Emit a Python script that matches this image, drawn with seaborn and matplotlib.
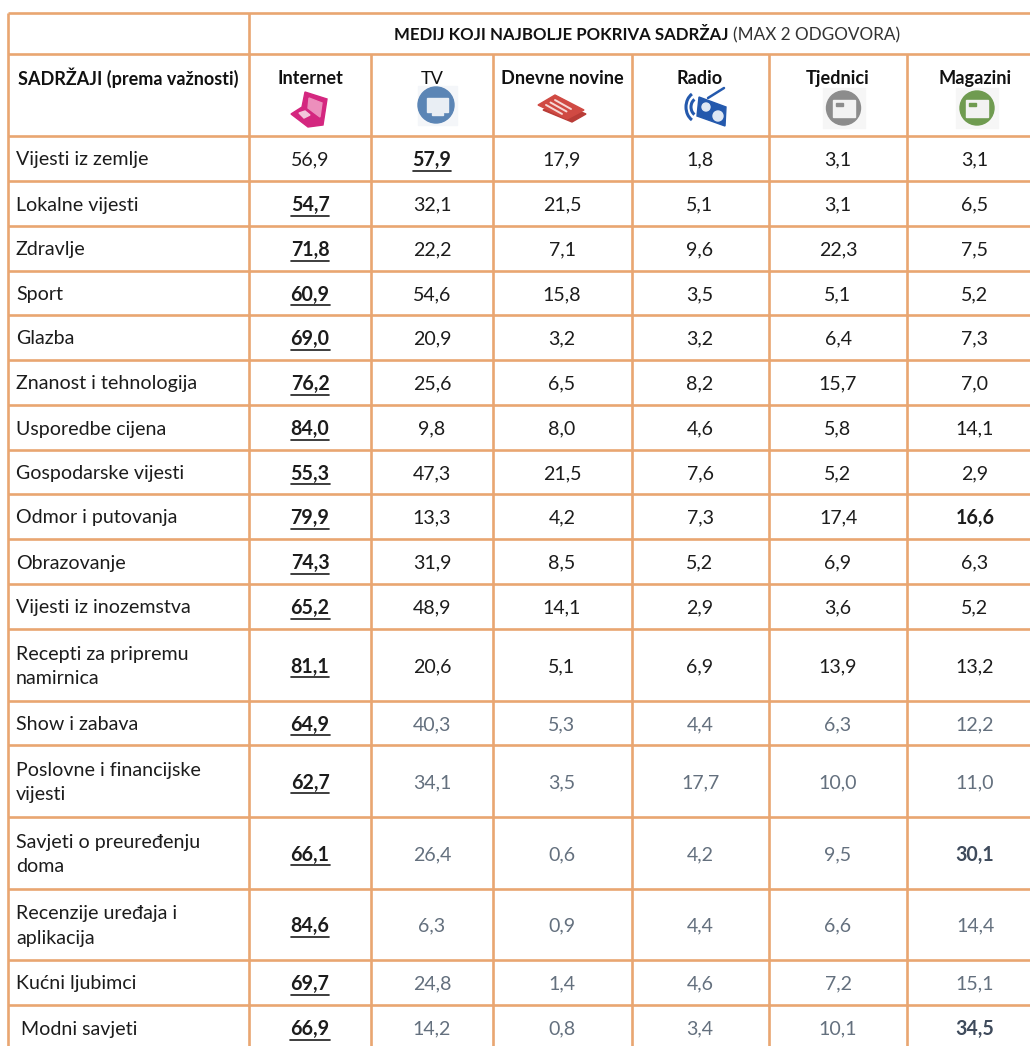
import matplotlib
matplotlib.use("Agg")
import matplotlib.pyplot as plt
from matplotlib.patches import Circle, Polygon, Rectangle, Arc
import pandas as pd
import seaborn as sns

# ===================== DATA =====================
sadrzaji = ["Vijesti iz zemlje", "Lokalne vijesti", "Zdravlje", "Sport", "Glazba",
            "Znanost i tehnologija", "Usporedbe cijena", "Gospodarske vijesti",
            "Odmor i putovanja", "Obrazovanje", "Vijesti iz inozemstva",
            "Recepti za pripremu\nnamirnica", "Show i zabava",
            "Poslovne i financijske\nvijesti", "Savjeti o preuređenju\ndoma",
            "Recenzije uređaja i\naplikacija", "Kućni ljubimci", " Modni savjeti"]
mediji = ["Internet", "TV", "Dnevne novine", "Radio", "Tjednici", "Magazini"]
internet = ["56,9", "54,7", "71,8", "60,9", "69,0", "76,2", "84,0", "55,3", "79,9",
            "74,3", "65,2", "81,1", "64,9", "62,7", "66,1", "84,6", "69,7", "66,9"]
tv = ["57,9", "32,1", "22,2", "54,6", "20,9", "25,6", "9,8", "47,3", "13,3",
      "31,9", "48,9", "20,6", "40,3", "34,1", "26,4", "6,3", "24,8", "14,2"]
novine = ["17,9", "21,5", "7,1", "15,8", "3,2", "6,5", "8,0", "21,5", "4,2",
          "8,5", "14,1", "5,1", "5,3", "3,5", "0,6", "0,9", "1,4", "0,8"]
radio = ["1,8", "5,1", "9,6", "3,5", "3,2", "8,2", "4,6", "7,6", "7,3",
         "5,2", "2,9", "6,9", "4,4", "17,7", "4,2", "4,4", "4,6", "3,4"]
tjednici = ["3,1", "3,1", "22,3", "5,1", "6,4", "15,7", "5,8", "5,2", "17,4",
            "6,9", "3,6", "13,9", "6,3", "10,0", "9,5", "6,6", "7,2", "10,1"]
magazini = ["3,1", "6,5", "7,5", "5,2", "7,3", "7,0", "14,1", "2,9", "16,6",
            "6,3", "5,2", "13,2", "12,2", "11,0", "30,1", "14,4", "15,1", "34,5"]
stupci = [internet, tv, novine, radio, tjednici, magazini]

# ===================== LAYOUT =====================
W, H = 1030, 1046
LINE = "#e9a671"
GREY = "#64707e"
x_lines = [8, 249, 371, 493, 632, 769, 907]
x_centers = [310, 432, 562, 700, 838, 975]
y_lines = [13, 54, 136, 181, 226, 271, 315, 360, 405, 450, 494, 539, 584, 629,
           701, 745, 817, 889, 960, 1005, 1050]

sns.set_theme(style="white")
plt.rcParams["font.family"] = ["Lato", "DejaVu Sans"]
BODY = 14.1

fig = plt.figure(figsize=(W / 100, H / 100), dpi=100)
ax = fig.add_axes([0, 0, 1, 1])

# mreža tablice
segs = []
for i, y in enumerate(y_lines[:-1]):
    segs.append((f"h{i}", 8, y))
    segs.append((f"h{i}", W, y))
for i, x in enumerate(x_lines):
    top = 13 if i < 2 else 54
    segs.append((f"v{i}", x, top))
    segs.append((f"v{i}", x, H + 4))
grid = pd.DataFrame(segs, columns=["id", "x", "y"])
sns.lineplot(data=grid, x="x", y="y", units="id", estimator=None, color=LINE,
             linewidth=1.9, ax=ax, legend=False, solid_capstyle="butt")
ax.set_xlim(0, W)
ax.set_ylim(H, 0)
ax.axis("off")

# zaglavlje
ax.text(729, 35, "MEDIJ KOJI NAJBOLJE POKRIVA SADRŽAJ", ha="right", va="center",
        fontsize=12.1, fontweight="bold", color="#111111")
ax.text(733, 35, "(MAX 2 ODGOVORA)", ha="left", va="center", fontsize=12.3, color="#333333")
ax.text(18, 78, "SADRŽAJI (prema važnosti)", ha="left", va="center", fontsize=13,
        fontweight="bold", color="#111111")
for naziv, xc in zip(mediji, x_centers):
    ax.text(xc, 78.5, naziv, ha="center", va="center", fontsize=13.1, color="#111111",
            fontweight="normal" if naziv == "TV" else "bold")

# ikone
ax.add_patch(Polygon([(305, 92), (327, 99), (323, 125), (308, 127), (291, 114), (302, 107)],
                     color="#d4267f"))
ax.add_patch(Polygon([(309, 98), (322, 103), (320, 117), (308, 108)], color="#ec8fbc"))
ax.add_patch(Polygon([(299, 113), (305, 111), (310, 115), (304, 118)], color="#f3c6dc"))

ax.add_patch(Rectangle((418, 86), 39, 39, color="#f4f6f9"))
ax.add_patch(Circle((436, 105), 18, color="#5b85b5"))
ax.add_patch(Rectangle((427, 98), 21, 14, color="#e9eef4"))
ax.add_patch(Rectangle((432, 113), 11, 2, color="#e9eef4"))

ax.add_patch(Polygon([(543, 110), (572, 122), (586, 114), (560, 103)], color="#b93c37"))
ax.add_patch(Polygon([(555, 95), (584, 110), (567, 119), (538, 105)], color="#d04a43"))
for d in [0, 4.5, 9]:
    ax.plot([555 - d, 571 - d], [100 + d * 0.55, 109 + d * 0.55], color="#f6d9d6", linewidth=1.4)

ax.add_patch(Polygon([(699, 97), (726, 107), (725, 126), (697, 116)], color="#2459ad"))
ax.plot([708, 724], [98, 88], color="#2459ad", linewidth=1.8)
ax.add_patch(Circle((706, 107), 4, color="#dfe8f4"))
ax.add_patch(Circle((718, 116), 5, color="#dfe8f4"))
for r in [7, 12]:
    ax.add_patch(Arc((698, 107), 2 * r, 2.5 * r, theta1=115, theta2=245, color="#2459ad", linewidth=2.2))

for xc, boja in [(843.5, "#8c8c8c"), (977, "#6f9b50")]:
    ax.add_patch(Rectangle((xc - 21, 88), 42, 40, color="#f6f6f6"))
    ax.add_patch(Circle((xc, 108), 17, color=boja))
    ax.add_patch(Rectangle((xc - 11, 100), 22, 17, color="#f2f2f2"))
    ax.add_patch(Rectangle((xc - 8, 103), 7, 3, color=boja))

# redovi
fig.canvas.draw()
renderer = fig.canvas.get_renderer()
for r, naziv in enumerate(sadrzaji):
    y0, y1 = y_lines[r + 2], y_lines[r + 3]
    yc = min((y0 + y1) / 2, 1028) + 1.5
    ax.text(16, yc, naziv, ha="left", va="center", fontsize=BODY, color="#1c1c1c",
            linespacing=1.55)
    for c, xc in enumerate(x_centers):
        val = stupci[c][r]
        # najveća vrijednost u retku je podebljana i podcrtana
        podcrtano = (c == 1 and r == 0) or (c == 0 and r > 0)
        istaknuto = val in ("16,6", "30,1", "34,5") and c == 5
        boja = "#1c1c1c"
        if r >= 12 and c > 0:
            boja = GREY
        if r >= 14 and istaknuto:
            boja = "#3f4b5c"
        t = ax.text(xc, yc, val, ha="center", va="center", fontsize=BODY, color=boja,
                    fontweight="bold" if podcrtano or istaknuto else "normal")
        if podcrtano:
            b = t.get_window_extent(renderer)
            ax.plot([b.x0, b.x1], [yc + 10.5, yc + 10.5], color="#1c1c1c", linewidth=1.2)

fig.savefig("out.png", dpi=100)
plt.close(fig)
